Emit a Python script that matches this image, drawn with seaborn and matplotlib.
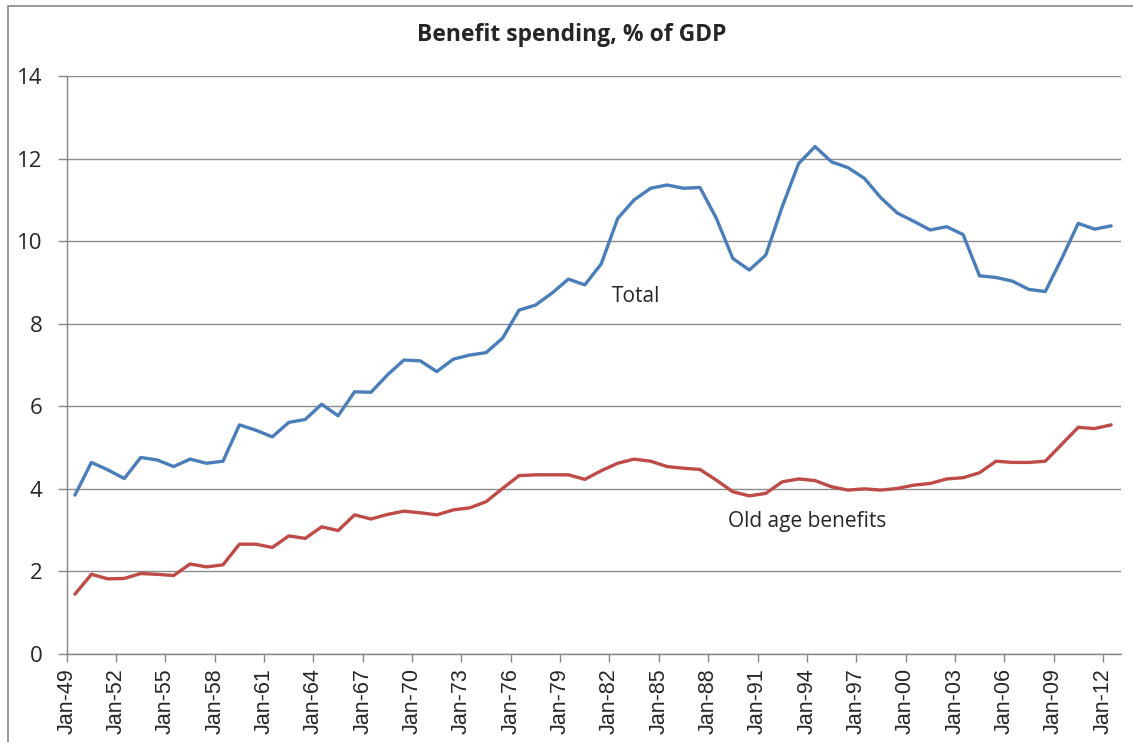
import numpy as np
import pandas as pd
import matplotlib
matplotlib.use("Agg")
import matplotlib.pyplot as plt
import seaborn as sns
from matplotlib.patches import Rectangle

years = list(range(1949, 2013))
total = [3.85, 4.64, 4.46, 4.25, 4.76, 4.70, 4.54, 4.72, 4.62, 4.67,
         5.55, 5.42, 5.26, 5.61, 5.68, 6.05, 5.77, 6.35, 6.34, 6.76,
         7.12, 7.10, 6.84, 7.14, 7.24, 7.30, 7.65, 8.33, 8.45, 8.74,
         9.08, 8.94, 9.45, 10.55, 11.00, 11.28, 11.36, 11.28, 11.30, 10.55,
         9.58, 9.30, 9.66, 10.83, 11.88, 12.29, 11.92, 11.78, 11.52, 11.05,
         10.68, 10.48, 10.27, 10.35, 10.16, 9.16, 9.12, 9.03, 8.83, 8.78,
         9.58, 10.43, 10.29, 10.37]
old_age = [1.45, 1.93, 1.82, 1.83, 1.95, 1.93, 1.90, 2.18, 2.11, 2.16,
           2.66, 2.66, 2.58, 2.86, 2.80, 3.08, 2.99, 3.37, 3.27, 3.38,
           3.46, 3.42, 3.37, 3.49, 3.54, 3.69, 4.01, 4.32, 4.34, 4.34,
           4.34, 4.23, 4.44, 4.62, 4.72, 4.67, 4.54, 4.50, 4.47, 4.21,
           3.93, 3.83, 3.89, 4.17, 4.24, 4.20, 4.05, 3.97, 4.00, 3.97,
           4.01, 4.09, 4.13, 4.24, 4.27, 4.39, 4.67, 4.64, 4.64, 4.67,
           5.08, 5.49, 5.46, 5.55]
tick_years = list(range(1949, 2013, 3))
tick_labels = ["Jan-%02d" % (y % 100) for y in tick_years]
title = "Benefit spending, % of GDP"

sns.set_style("white")
plt.rcParams['font.family'] = ['Open Sans', 'DejaVu Sans']

df = pd.DataFrame({"x": [y + 0.5 for y in years], "Total": total, "Old": old_age})

fig = plt.figure(figsize=(11.33, 7.42), dpi=100)
ax = fig.add_axes([0.0589, 0.1186, 0.9894 - 0.0589, 0.8976 - 0.1186])

sns.lineplot(data=df, x="x", y="Total", ax=ax, color="#4a7ebb", linewidth=2.4)
sns.lineplot(data=df, x="x", y="Old", ax=ax, color="#be4b48", linewidth=2.4)

ax.set_xlim(1949, 2013.1)
ax.set_ylim(0, 14)
ax.set_yticks(range(0, 15, 2))
ax.set_xticks(tick_years)
ax.set_xticklabels(tick_labels, rotation=90, fontsize=15.5, family="Liberation Sans")
ax.tick_params(axis="y", labelsize=16, length=6.5, width=1, color="#868686", direction="out", left=True, pad=11)
ax.tick_params(axis="x", length=6, width=1, color="#868686", direction="out", bottom=True, pad=4)
ax.set_xlabel("")
ax.set_ylabel("")
ax.grid(axis="y", color="#8c8c8c", linewidth=1)
ax.grid(axis="x", visible=False)
for s in ["top", "right"]:
    ax.spines[s].set_visible(False)
for s in ["left", "bottom"]:
    ax.spines[s].set_color("#868686")
    ax.spines[s].set_linewidth(1)

ax.text(1982.15, 8.65, "Total", fontsize=15, va="center", ha="left")
ax.text(1989.2, 3.2, "Old age benefits", fontsize=15, va="center", ha="left")

fig.text(0.505, 1 - 35 / 742, title, fontsize=16.5, fontweight="bold", ha="center", va="center")

fig.patches.append(Rectangle((8 / 1133, -0.1), 1.2, 1 - 6 / 742 + 0.1, transform=fig.transFigure,
                             fill=False, edgecolor="#868686", linewidth=1.2))

fig.savefig("out.png", dpi=100)
